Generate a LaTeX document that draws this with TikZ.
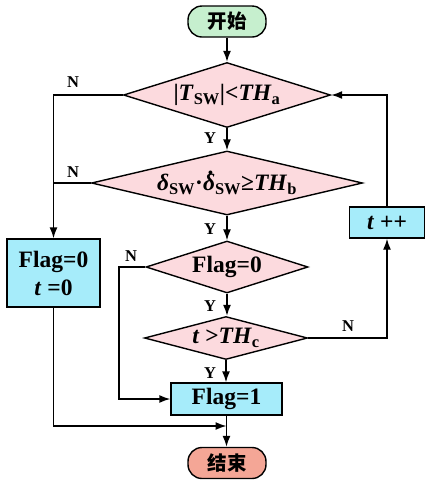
\documentclass[tikz,border=0pt]{standalone}
\usepackage{fontspec}
\setmainfont{Liberation Serif}
\newfontfamily\cjk{Noto Sans CJK SC}
\usetikzlibrary{shapes.geometric,arrows.meta}
\definecolor{cgreen}{RGB}{198,239,206}
\definecolor{cpink}{RGB}{252,218,222}
\definecolor{ccyan}{RGB}{166,236,250}
\definecolor{csalmon}{RGB}{244,166,150}
\newcommand\dotdelta{\leavevmode\rlap{\hspace{0.2em}\raisebox{0.66em}{.}}\textit{δ}}
\tikzset{
  every node/.style={font=\bfseries\fontsize{23.5}{28}\selectfont},
  term/.style={draw, line width=1.4pt, rounded corners=14pt, minimum width=78pt, minimum height=31pt, inner sep=0pt, font=\cjk\bfseries\fontsize{19.5}{20}\selectfont},
  dia/.style={draw, diamond, line width=1.4pt, fill=cpink, inner sep=0pt},
  proc/.style={draw, rectangle, line width=1.4pt, fill=ccyan, inner sep=0pt, align=center},
  conn/.style={line width=1.4pt},
  arr/.style={conn, -{Latex[length=11pt,width=8pt]}},
  lab/.style={font=\bfseries\fontsize{16.5}{17}\selectfont, inner sep=0pt}
}
\begin{document}
\begin{tikzpicture}[x=1pt,y=-1pt]
\useasboundingbox (0,0) rectangle (425,483);
\node[term, fill=cgreen] (start) at (227,21.5) {开始};
\node[dia, minimum width=207pt, minimum height=65pt] (d1) at (227,95) {\makebox[0pt]{|\textit{T}\textsubscript{SW}|<\textit{TH}\textsubscript{a}}};
\node[dia, minimum width=271pt, minimum height=64pt] (d2) at (227,183) {\makebox[0pt]{\textit{δ}\textsubscript{SW}·\dotdelta\textsubscript{SW}≥\textit{TH}\textsubscript{b}}};
\node[dia, minimum width=162pt, minimum height=52pt] (d3) at (227,267) {\makebox[0pt]{Flag=0}};
\node[dia, minimum width=163pt, minimum height=43pt] (d4) at (226,338) {\makebox[0pt]{\textit{t} >\textit{TH}\textsubscript{c}}};
\node[proc, minimum width=93pt, minimum height=68pt] (b0) at (53.5,273) {Flag=0\\\textit{t} =0};
\node[proc, minimum width=75pt, minimum height=31pt] (tpp) at (387,222.5) {\textit{t} ++};
\node[proc, minimum width=111pt, minimum height=32pt] (f1) at (226.5,399) {Flag=1};
\node[term, fill=csalmon] (end) at (227,463) {结束};
\coordinate (jn) at (226.5,426);
\coordinate (c3) at (119,267);
% main flow
\draw[arr] (start) -- (d1);
\draw[arr] (d1.south) -- (d1.south |- d2.north);
\draw[arr] (d2.south) -- (d2.south |- d3.north);
\draw[arr] (d3.south) -- (d3.south |- d4.north);
\draw[arr] (d4.south) -- (d4.south |- f1.north);
\draw[arr] (f1.south) -- (f1.south |- end.north);
% N branches to left
\draw[arr] (d1.west) -| (b0.north);
\draw[conn] (d2.west) -- (b0.north |- d2.west);
\draw[arr] (b0.south) |- (jn);
\draw[arr] (d3.west) -- (c3) |- (f1.west);
% loop
\draw[arr] (d4.east) -| (tpp.south);
\draw[arr] (tpp.north) |- (d1.east);
% labels
\node[lab] (n1) at (73,82) {N};
\node[lab] (n2) at (73,172) {N};
\node[lab] (n3) at (131,256) {N};
\node[lab] (n4) at (348,326) {N};
\node[lab] (y1) at (210,138) {Y};
\node[lab] (y2) at (210,229) {Y};
\node[lab] (y3) at (210,306) {Y};
\node[lab] (y4) at (210,373) {Y};
\end{tikzpicture}
\end{document}
